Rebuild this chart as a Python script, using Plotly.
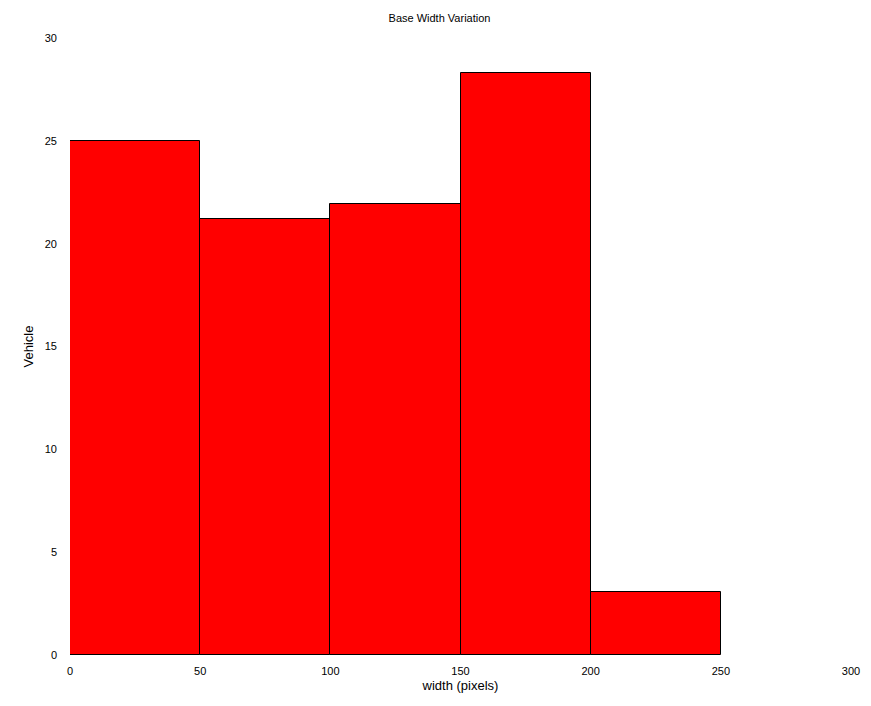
import plotly.graph_objects as go

bin_left = [0, 50, 100, 150, 200]
bin_width = 50
counts = [25.0, 21.2, 21.95, 28.3, 3.05]
x_ticks = [0, 50, 100, 150, 200, 250, 300]
y_ticks = [0, 5, 10, 15, 20, 25, 30]

centers = [b + bin_width / 2 for b in bin_left]

fig = go.Figure(go.Bar(
    x=centers, y=counts, width=[bin_width] * len(centers),
    marker=dict(color="#ff0000", line=dict(color="#000000", width=1)),
))

# page body has an 8px margin, so the figure is sized to fit the 871x706 window
fig.update_layout(
    width=863, height=698,
    margin=dict(l=62, r=20, t=30, b=51),
    paper_bgcolor="white", plot_bgcolor="white",
    font=dict(family="Liberation Sans, Arial, sans-serif", size=11, color="#000"),
    title=dict(text="Base Width Variation", x=0.5, xanchor="center", y=0.985, yanchor="middle",
               font=dict(size=11)),
    showlegend=False, bargap=0,
    xaxis=dict(range=[0, 300], tickvals=x_ticks, showgrid=False, zeroline=False, automargin=False,
               showline=False, ticks="", ticklabelstandoff=8,
               title=dict(text="width (pixels)", standoff=4)),
    yaxis=dict(range=[0, 30], tickvals=y_ticks, showgrid=False, zeroline=False, automargin=False,
               showline=False, ticks="", ticklabelstandoff=12,
               title=dict(text="Vehicle", standoff=8)),
)

fig.write_html("out.html")
